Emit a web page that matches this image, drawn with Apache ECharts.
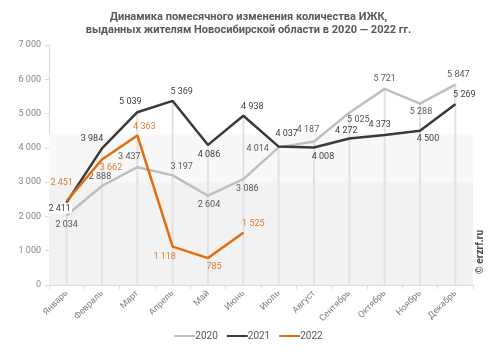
<!DOCTYPE html>
<html><head><meta charset="utf-8">
<script src="https://cdn.jsdelivr.net/npm/echarts@6/dist/echarts.min.js"></script>
<style>html,body{margin:0;padding:0;background:#fff}#c{width:497px;height:358px}</style>
</head><body><div id="c"></div>
<script>
var months = ['Январь','Февраль','Март','Апрель','Май','Июнь','Июль','Август','Сентябрь','Октябрь','Ноябрь','Декабрь'];
var y2020 = [2034, 2888, 3437, 3197, 2604, 3086, 4014, 4187, 5025, 5721, 5288, 5847];
var y2021 = [2411, 3984, 5039, 5369, 4086, 4938, 4037, 4008, 4272, 4373, 4500, 5269];
var y2022 = [2451, 3662, 4363, 1118, 785, 1525];
var yTicks = [0, 1000, 2000, 3000, 4000, 5000, 6000, 7000];

// label offsets (style)
var off2020 = [[0,9],[-2,-9],[-8,-10],[9,-9],[1,9],[4,10],[-21,1],[-6,-12],[9,7],[0,-10],[1,8],[3,-10]];
var off2021 = [[-7,6],[-10,-10],[-7,-10],[9,-9],[1,10],[9,-9],[8,-13],[9,9],[-3,-8],[-5,-10],[8,8],[9,-10]];
var off2022 = [[-5,-18],[9,8],[7,-9],[-8,10],[6,9],[10,-9]];

function fmt(v){ return String(v).replace(/\B(?=(\d{3})+(?!\d))/g, ' '); }
function items(vals, offs, color, bgIdx){
  return vals.map(function(v,i){
    var lab = {show: true, position: 'inside', offset: offs[i], color: color,
      fontSize: 9, fontFamily: 'Roboto', formatter: function(p){ return fmt(p.value); }};
    if (bgIdx === i) { lab.backgroundColor = '#ffffff'; lab.padding = [1,1,0,1]; }
    return {value: v, label: lab};
  });
}
var maxes = months.map(function(m,i){
  return Math.max(y2020[i], y2021[i], y2022[i] == null ? 0 : y2022[i]);
});

var chart = echarts.init(document.getElementById('c'));
chart.setOption({
  animation: false,
  title: {
    text: 'Динамика помесячного изменения количества ИЖК,\nвыданных жителям Новосибирской области в 2020 — 2022 гг.',
    left: 'center', top: 6,
    textStyle: {fontSize: 11, fontWeight: 'bold', color: '#595959', fontFamily: 'Roboto', lineHeight: 13}
  },
  grid: {left: 49, right: 24, top: 45, bottom: 73},
  legend: {
    data: ['2020','2021','2022'], bottom: 12, left: 'center',
    icon: 'rect', itemWidth: 21, itemHeight: 2, itemGap: 9,
    textStyle: {fontSize: 10, color: '#595959', fontFamily: 'Roboto', padding: [0,0,0,-5]}
  },
  xAxis: {
    type: 'category', data: months, boundaryGap: true,
    axisLine: {lineStyle: {color: '#d9d9d9', width: 1}},
    axisTick: {show: true, length: 4, lineStyle: {color: '#d9d9d9'}},
    axisLabel: {rotate: 45, fontSize: 9, color: '#7f7f7f', fontFamily: 'Roboto', margin: 7, interval: 0},
    splitLine: {show: false}
  },
  yAxis: {
    type: 'value', min: yTicks[0], max: yTicks[yTicks.length-1], interval: 1000,
    axisLine: {show: true, lineStyle: {color: '#d9d9d9'}},
    axisTick: {show: true, length: 4, lineStyle: {color: '#d9d9d9'}},
    axisLabel: {fontSize: 9, color: '#8a8580', fontFamily: 'Roboto', margin: 8, formatter: function(v){ return fmt(v); }},
    splitLine: {show: false}
  },
  graphic: [{
    type: 'text', left: 475, top: 230, rotation: Math.PI/2,
    style: {text: '© erzrf.ru', fontSize: 10, fontWeight: 'bold', fill: '#4a4a4a', fontFamily: 'Roboto'}
  }],
  series: [
    {
      name: 'bg', type: 'line', data: [], silent: true, z: 0,
      markArea: {silent: true, data: [
        [{yAxis: 0, itemStyle: {color: '#f2f2f2'}}, {yAxis: 3000}],
        [{yAxis: 3000, itemStyle: {color: '#f8f8f8'}}, {yAxis: 4400}]
      ]}
    },
    {
      name: 'drop', type: 'bar', data: maxes, barWidth: 2, silent: true, z: 1,
      itemStyle: {color: '#e2e2e2'}, label: {show: false}
    },
    {
      name: '2020', type: 'line', data: items(y2020, off2020, '#595959'), z: 3,
      lineStyle: {color: '#bfbfbf', width: 2.5}, itemStyle: {color: '#bfbfbf'},
      symbol: 'circle', symbolSize: 1, showSymbol: true
    },
    {
      name: '2021', type: 'line', data: items(y2021, off2021, '#404040', 0), z: 4,
      lineStyle: {color: '#3a3a3a', width: 2.5}, itemStyle: {color: '#3a3a3a'},
      symbol: 'circle', symbolSize: 1, showSymbol: true
    },
    {
      name: '2022', type: 'line', data: items(y2022, off2022, '#e07a30'), z: 5,
      lineStyle: {color: '#e46c0a', width: 2.5}, itemStyle: {color: '#e46c0a'},
      symbol: 'circle', symbolSize: 1, showSymbol: true
    }
  ]
});
</script></body></html>
